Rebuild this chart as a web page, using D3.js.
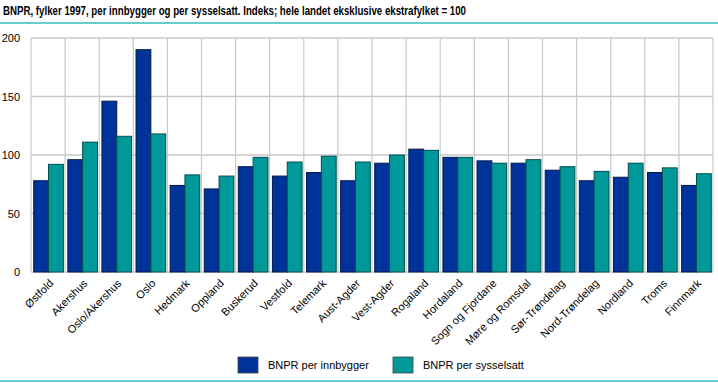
<!DOCTYPE html>
<html><head><meta charset="utf-8">
<script src="https://cdn.jsdelivr.net/npm/d3@7"></script>
<style>body{margin:0;background:#fff}svg{display:block}text{font-family:"Liberation Sans",Arial,sans-serif}</style>
</head><body><svg id="c" width="718" height="383"></svg>
<script>
const categories = ["Østfold","Akershus","Oslo/Akershus","Oslo","Hedmark","Oppland","Buskerud","Vestfold","Telemark","Aust-Agder","Vest-Agder","Rogaland","Hordaland","Sogn og Fjordane","Møre og Romsdal","Sør-Trøndelag","Nord-Trøndelag","Nordland","Troms","Finnmark"];
const perInnbygger = [78,96,146,190,74,71,90,82,85,78,93,105,98,95,93,87,78,81,85,74];
const perSysselsatt = [92,111,116,118,83,82,98,94,99,94,100,104,98,93,96,90,86,93,89,84];
const seriesNames = ["BNPR per innbygger","BNPR per sysselsatt"];
const yTicks = [0,50,100,150,200];
const title = "BNPR, fylker 1997, per innbygger og per sysselsatt. Indeks; hele landet eksklusive ekstrafylket = 100";

const colors = ["#003399","#009999"];
const strokes = ["#001a4d","#004d4d"];
const svg = d3.select("#c");
const L=31, R=713, T=38, B=272;
const x = d3.scaleBand().domain(categories).range([L,R]).paddingInner(0).paddingOuter(0);
const x1 = d3.scaleBand().domain([0,1]).range([0,x.bandwidth()]).paddingOuter(0.15).paddingInner(0);
const y = d3.scaleLinear().domain([0,200]).range([B,T]);

// title
svg.append("text").attr("x",3).attr("y",15).attr("font-weight","bold").attr("font-size",13)
  .attr("font-family","DejaVu Sans Condensed, DejaVu Sans, sans-serif")
  .attr("fill","#000").attr("textLength",463).attr("lengthAdjust","spacingAndGlyphs").text(title);
svg.append("line").attr("x1",0).attr("x2",718).attr("y1",23).attr("y2",23).attr("stroke","#66cccc").attr("stroke-width",2);
svg.append("line").attr("x1",0).attr("x2",718).attr("y1",381).attr("y2",381).attr("stroke","#66cccc").attr("stroke-width",2);

// grid
const g = svg.append("g");
g.selectAll("line.h").data(yTicks).join("line").attr("class","h")
  .attr("x1",L).attr("x2",R).attr("y1",d=>y(d)).attr("y2",d=>y(d)).attr("stroke","#c8c8c8").attr("stroke-width",1.3);
const vx = categories.map(c=>x(c)).concat([R]);
g.selectAll("line.v").data(vx).join("line").attr("class","v")
  .attr("x1",d=>d).attr("x2",d=>d).attr("y1",T).attr("y2",B).attr("stroke","#c8c8c8").attr("stroke-width",1.2);

// bars
const series = [perInnbygger, perSysselsatt];
series.forEach((vals,si)=>{
  svg.append("g").selectAll("rect").data(categories).join("rect")
    .attr("x",(c)=>x(c)+x1(si)+0.5)
    .attr("y",(c,i)=>y(vals[i]))
    .attr("width",x1.bandwidth())
    .attr("height",(c,i)=>B-y(vals[i]))
    .attr("fill",colors[si]).attr("stroke",strokes[si]).attr("stroke-width",1);
});

// y axis labels
const yAxis = d3.axisLeft(y).tickValues(yTicks).tickSize(0).tickPadding(0);
const ya = svg.append("g").attr("transform",`translate(${20},0)`).call(yAxis);
ya.select(".domain").remove();
ya.selectAll("text").attr("font-size",11).attr("fill","#000").attr("font-family","DejaVu Sans, sans-serif");

// x labels
const xAxis = d3.axisBottom(x).tickSize(0).tickPadding(0);
const xa = svg.append("g").attr("transform",`translate(0,${B})`).call(xAxis);
xa.select(".domain").remove();
xa.selectAll("text").attr("font-size",11).attr("fill","#000").attr("font-family","Liberation Sans, Arial, sans-serif")
  .attr("text-anchor","end").attr("dy",0).attr("transform","translate(6,12) rotate(-45)");

// legend
const lg = svg.append("g");
const lx = [238,393];
seriesNames.forEach((n,i)=>{
  lg.append("rect").attr("x",lx[i]).attr("y",357).attr("width",20).attr("height",16).attr("fill",colors[i]).attr("stroke","#444").attr("stroke-width",0.8);
  lg.append("text").attr("x",lx[i]+30).attr("y",369).attr("font-size",11).attr("fill","#000").text(n);
});
</script></body></html>
